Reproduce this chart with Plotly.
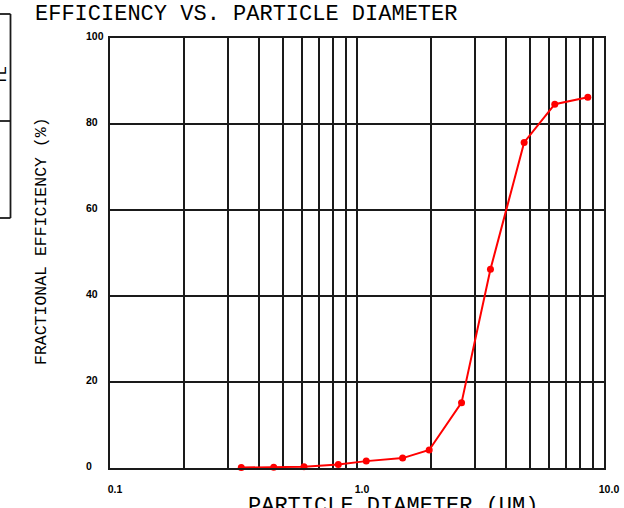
import plotly.graph_objects as go

# ---- data ----
diameter_um = [0.34, 0.46, 0.61, 0.84, 1.09, 1.53, 1.96, 2.65, 3.47, 4.75, 6.32, 8.60]
efficiency_pct = [0.1, 0.2, 0.3, 0.8, 1.6, 2.3, 4.2, 15.2, 46.2, 75.7, 84.6, 86.2]

x_grid_vals = [0.1, 0.2, 0.3, 0.4, 0.5, 0.6, 0.7, 0.8, 0.9,
               1, 2, 3, 4, 5, 6, 7, 8, 9, 10]
x_tick_text = {0.1: "0.1", 1: "1.0", 10: "10.0"}
y_tick_vals = [0, 20, 40, 60, 80, 100]
y_tick_text = ["0", "20", "40", "60", "80", "100"]

title_text = "EFFICIENCY VS. PARTICLE DIAMETER"
x_title = "PARTICLE DIAMETER (UM)"
y_title = "FRACTIONAL EFFICIENCY (%)"

# ---- layout geometry (pixels) ----
W, H = 624, 508
L, R, T, B = 110, 20, 38, 40
PW, PH = W - L - R, H - T - B


def px_x(p):
    return (p - L) / PW


def px_y(p):
    return (H - B - p) / PH


MONO = "Liberation Mono, DejaVu Sans Mono, monospace"
TICKFONT = dict(family="Liberation Sans, Arial, sans-serif", size=10.5, color="black", weight="bold")
GRID = "#1a1a1a"

fig = go.Figure()
fig.add_trace(go.Scatter(
    x=diameter_um, y=efficiency_pct, mode="lines+markers",
    line=dict(color="#ff0000", width=2),
    marker=dict(color="#ff0000", size=7),
    cliponaxis=False, showlegend=False, hoverinfo="skip",
))

fig.update_xaxes(
    type="log", range=[-1, 1], automargin=False,
    tickmode="array", tickvals=x_grid_vals,
    ticktext=[x_tick_text.get(v, "") for v in x_grid_vals],
    showgrid=True, gridcolor=GRID, gridwidth=1.8,
    showline=True, linecolor=GRID, linewidth=2, mirror=True,
    ticks="", tickfont=TICKFONT, ticklabelshift=5, ticklabelstandoff=10,
    zeroline=False,
)
fig.update_yaxes(
    range=[0, 100], tickmode="array", tickvals=y_tick_vals, automargin=False,
    showticklabels=False,
    showgrid=True, gridcolor=GRID, gridwidth=1.8,
    showline=True, linecolor=GRID, linewidth=2, mirror=True,
    ticks="", zeroline=False,
)

annotations = []
for v, t in zip(y_tick_vals, y_tick_text):
    annotations.append(dict(
        xref="paper", yref="y", x=px_x(84), y=v, xanchor="left", yanchor="middle",
        text=t, showarrow=False, font=TICKFONT, yshift=2,
    ))

annotations.append(dict(
    xref="paper", yref="paper", x=px_x(33), y=px_y(15), xanchor="left", yanchor="middle",
    text=title_text, showarrow=False, font=dict(family=MONO, size=22, color="black"),
))
annotations.append(dict(
    xref="paper", yref="paper", x=px_x(393), y=px_y(507), xanchor="center", yanchor="middle",
    text=x_title, showarrow=False, font=dict(family=MONO, size=22, color="black"),
))
annotations.append(dict(
    xref="paper", yref="paper", x=px_x(41), y=px_y(241), xanchor="center", yanchor="middle",
    text=y_title, textangle=-90, showarrow=False, font=dict(family=MONO, size=16.5, color="black"),
))
# cut-off box fragment at left edge
annotations.append(dict(
    xref="paper", yref="paper", x=px_x(2), y=px_y(76), xanchor="center", yanchor="middle",
    text="TL", textangle=-90, showarrow=False, font=dict(family=MONO, size=16, color="black"),
))

shapes = [
    dict(type="line", xref="paper", yref="paper", x0=px_x(-10), x1=px_x(10.5), y0=px_y(14), y1=px_y(14),
         line=dict(color=GRID, width=1.8)),
    dict(type="line", xref="paper", yref="paper", x0=px_x(10.5), x1=px_x(10.5), y0=px_y(14), y1=px_y(218),
         line=dict(color=GRID, width=1.8)),
    dict(type="line", xref="paper", yref="paper", x0=px_x(-10), x1=px_x(10.5), y0=px_y(121), y1=px_y(121),
         line=dict(color=GRID, width=1.8)),
    dict(type="line", xref="paper", yref="paper", x0=px_x(-10), x1=px_x(10.5), y0=px_y(218), y1=px_y(218),
         line=dict(color=GRID, width=1.8)),
]

fig.update_layout(
    width=W, height=H,
    margin=dict(l=L, r=R, t=T, b=B, pad=0, autoexpand=False),
    paper_bgcolor="white", plot_bgcolor="white",
    annotations=annotations, shapes=shapes, showlegend=False,
    hovermode=False,
)

fig.write_html(
    "out.html",
    config={"displayModeBar": False, "staticPlot": True},
    post_script="document.body.style.margin='0';document.body.style.overflow='hidden';",
)
